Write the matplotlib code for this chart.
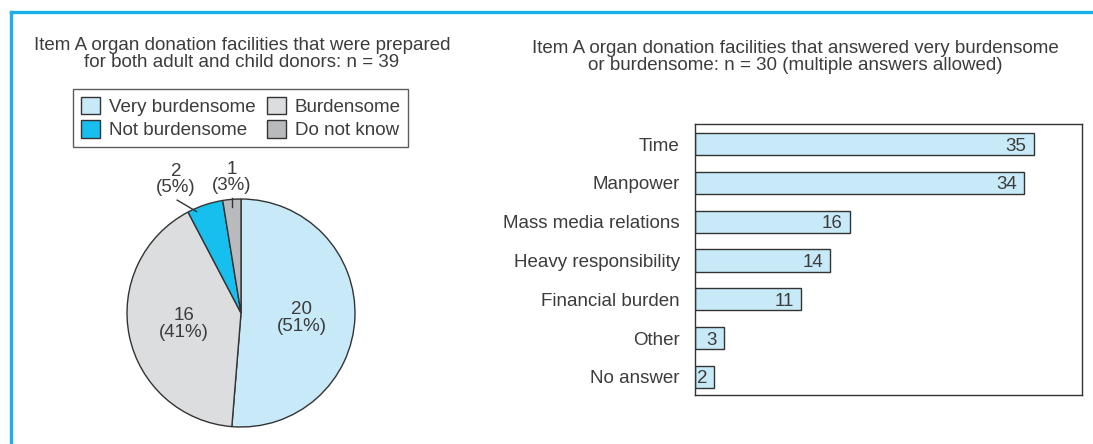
import matplotlib.pyplot as plt
from matplotlib.patches import Patch
from matplotlib.lines import Line2D

plt.rcParams['font.family'] = ['Liberation Sans', 'DejaVu Sans']

# pie data
pie_labels = ['Very burdensome', 'Burdensome', 'Not burdensome', 'Do not know']
pie_counts = [20, 16, 2, 1]
pie_pcts = [51, 41, 5, 3]
pie_colors = ['#c8eaf8', '#dcdddf', '#16bfee', '#b9babd']

# bar data
bar_cats = ['Time', 'Manpower', 'Mass media relations', 'Heavy responsibility',
            'Financial burden', 'Other', 'No answer']
bar_vals = [35, 34, 16, 14, 11, 3, 2]

txt = '#3c3c3c'
fs = 13.5
W, H = 1093, 444
fig = plt.figure(figsize=(W / 100, H / 100), dpi=100)

def px(x, y, w, h):
    # pixel box (left, top, width, height) -> figure fractions
    return [x / W, 1 - (y + h) / H, w / W, h / H]

# blue frame
fig.add_artist(Line2D([10.5 / W, 1], [1 - 12.5 / H] * 2, color='#1ab0ea', lw=2.4))
fig.add_artist(Line2D([10.5 / W] * 2, [0, 1 - 12.5 / H], color='#1ab0ea', lw=2.4))

# ---- pie ----
r = 114
ax = fig.add_axes(px(241 - r, 313 - r, 2 * r, 2 * r))
ax.pie(pie_counts, colors=pie_colors, startangle=90, counterclock=False,
       wedgeprops=dict(edgecolor='#333333', linewidth=1.0))
ax.set_xlim(-1, 1)
ax.set_ylim(-1, 1)
ax.set_aspect('equal')
ax.axis('off')

def lab(i):
    return f'{pie_counts[i]}\n({pie_pcts[i]}%)'

ax.text(0.53, -0.04, lab(0), ha='center', va='center', fontsize=fs, color=txt, linespacing=1.0)
ax.text(-0.50, -0.10, lab(1), ha='center', va='center', fontsize=fs, color=txt, linespacing=1.0)
ax.text(-0.57, 1.17, lab(2), ha='center', va='center', fontsize=fs, color=txt, linespacing=0.95, clip_on=False)
ax.text(-0.08, 1.19, lab(3), ha='center', va='center', fontsize=fs, color=txt, linespacing=0.95, clip_on=False)
ax.plot([-0.56, -0.39], [0.99, 0.89], color='#333333', lw=1, clip_on=False)
ax.plot([-0.08, -0.08], [1.01, 0.93], color='#333333', lw=1, clip_on=False)

fig.text(242 / W, 1 - 54 / H,
         'Item A organ donation facilities that were prepared\nfor both adult and child donors: n = 39',
         ha='center', va='center', fontsize=fs, color=txt, linespacing=0.95)

handles = [Patch(facecolor=c, edgecolor='#333333', lw=1) for c in pie_colors]
order = [0, 2, 1, 3]
leg = fig.legend([handles[i] for i in order], [pie_labels[i] for i in order], ncol=2,
                 loc='upper left', bbox_to_anchor=(73 / W, 1 - 89 / H),
                 frameon=True, fancybox=False, edgecolor='#333333', fontsize=fs,
                 handlelength=1.05, handleheight=1.05, handletextpad=0.45,
                 columnspacing=0.6, borderpad=0.4, labelspacing=0.25, borderaxespad=0)
leg.get_frame().set_linewidth(1.0)
for t in leg.get_texts():
    t.set_color(txt)

# ---- bars ----
bx = fig.add_axes(px(695, 124, 387, 271))
y = list(range(len(bar_cats)))
bx.barh(y, bar_vals, height=0.57, color='#c8eaf8', edgecolor='#333333', lw=1.0)
for yi, v in zip(y, bar_vals):
    bx.annotate(str(v), (v, yi), xytext=(-5, 0), textcoords='offset points',
                ha='right', va='center_baseline', fontsize=fs, color=txt)
bx.set_xlim(0, 40)
bx.set_ylim(6.47, -0.52)
bx.set_yticks(y)
bx.set_yticklabels(bar_cats, fontsize=fs, color=txt)
bx.set_xticks([])
bx.tick_params(axis='y', length=0, pad=11)
for s in bx.spines.values():
    s.set_color('#333333')
    s.set_linewidth(1.0)

fig.text(795 / W, 1 - 57 / H,
         'Item A organ donation facilities that answered very burdensome\nor burdensome: n = 30 (multiple answers allowed)',
         ha='center', va='center', fontsize=fs, color=txt, linespacing=0.95)

fig.savefig('out.png', dpi=100)
